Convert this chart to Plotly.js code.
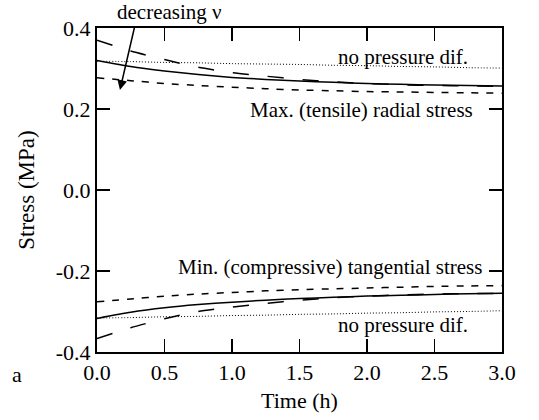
<!DOCTYPE html>
<html>
<head>
<meta charset="utf-8">
<script src="https://cdn.plot.ly/plotly-3.0.1.min.js"></script>
<style>
  html, body { margin: 0; padding: 0; background: #fff; }
  #chart { width: 539px; height: 420px; }
</style>
</head>
<body>
<div id="chart"></div>
<script>
// Time axis (h)
const time = [0, 0.25, 0.5, 0.75, 1.0, 1.25, 1.5, 1.75, 2.0, 2.25, 2.5, 2.75, 3.0];

// Max. (tensile) radial stress, MPa
const radialSolid  = [0.320, 0.305, 0.294, 0.285, 0.278, 0.273, 0.269, 0.266, 0.263, 0.261, 0.259, 0.258, 0.257];
const radialLong   = [0.370, 0.343, 0.322, 0.303, 0.290, 0.281, 0.273, 0.267, 0.263, 0.260, 0.258, 0.257, 0.256];
const radialShort  = [0.277, 0.270, 0.263, 0.258, 0.254, 0.250, 0.247, 0.245, 0.243, 0.242, 0.241, 0.240, 0.239];
const radialNoDif  = [0.318, 0.317, 0.315, 0.314, 0.312, 0.311, 0.310, 0.308, 0.307, 0.305, 0.304, 0.302, 0.301];

// Min. (compressive) tangential stress, MPa
const tangSolid    = [-0.317, -0.302, -0.291, -0.283, -0.277, -0.272, -0.268, -0.265, -0.262, -0.260, -0.258, -0.256, -0.255];
const tangLong     = [-0.367, -0.340, -0.318, -0.300, -0.289, -0.280, -0.272, -0.266, -0.262, -0.259, -0.257, -0.256, -0.255];
const tangShort    = [-0.276, -0.269, -0.262, -0.257, -0.253, -0.249, -0.246, -0.244, -0.242, -0.240, -0.238, -0.237, -0.236];
const tangNoDif    = [-0.316, -0.315, -0.313, -0.312, -0.310, -0.309, -0.307, -0.306, -0.304, -0.303, -0.301, -0.300, -0.298];

// Tick labels
const xTickVals = [0, 0.5, 1.0, 1.5, 2.0, 2.5, 3.0];
const xTickText = ['0.0', '0.5', '1.0', '1.5', '2.0', '2.5', '3.0'];
const yTickVals = [-0.4, -0.2, 0, 0.2, 0.4];
const yTickText = ['-0.4', '-0.2', '0.0', '0.2', '0.4'];

const FONT = '"Liberation Serif", "Times New Roman", Times, serif';

function line(y, dash, width) {
  return {
    x: time, y: y, type: 'scatter', mode: 'lines',
    line: { color: '#000', width: width, dash: dash, shape: 'spline', smoothing: 0.6 },
    hoverinfo: 'skip', showlegend: false
  };
}

const traces = [
  line(radialNoDif, '1px,2px', 1),
  line(radialSolid, 'solid', 1.5),
  line(radialLong, '16px,19px', 1.5),
  line(radialShort, '7px,8px', 1.5),
  line(tangNoDif, '1px,2px', 1),
  line(tangSolid, 'solid', 1.5),
  line(tangLong, '16px,19px', 1.5),
  line(tangShort, '7px,8px', 1.5)
];

const axisCommon = {
  showline: true, linecolor: '#000', linewidth: 2, mirror: 'ticks',
  ticks: 'inside', ticklen: 13, tickwidth: 1.5, tickcolor: '#000',
  showgrid: false, zeroline: false,
  tickfont: { family: FONT, size: 22, color: '#000' }
};

const layout = {
  width: 539, height: 420,
  margin: { l: 97, r: 37, t: 28, b: 68 },
  paper_bgcolor: '#fff', plot_bgcolor: '#fff',
  font: { family: FONT, color: '#000' },
  xaxis: Object.assign({}, axisCommon, {
    range: [0, 3], tickmode: 'array', tickvals: xTickVals, ticktext: xTickText,
    title: { text: 'Time (h)', font: { family: FONT, size: 22, color: '#000' }, standoff: 8 }
  }),
  yaxis: Object.assign({}, axisCommon, {
    range: [-0.4, 0.4], tickmode: 'array', tickvals: yTickVals, ticktext: yTickText,
    title: { text: 'Stress (MPa)', font: { family: FONT, size: 23, color: '#000' }, standoff: 15 }
  }),
  annotations: [
    { text: 'decreasing \u03bd', xref: 'x', yref: 'paper', x: 0.54, y: 1.0, yanchor: 'bottom',
      yshift: 2, showarrow: false, font: { family: FONT, size: 21, color: '#000' } },
    { text: '', xref: 'x', yref: 'y', x: 0.17, y: 0.247, axref: 'x', ayref: 'y', ax: 0.28, ay: 0.405,
      showarrow: true, arrowhead: 2, arrowsize: 1.3, arrowwidth: 1.5, arrowcolor: '#000' },
    { text: 'no pressure dif.', xref: 'x', yref: 'y', x: 2.27, y: 0.328, showarrow: false,
      font: { family: FONT, size: 21, color: '#000' } },
    { text: 'Max. (tensile) radial stress', xref: 'x', yref: 'y', x: 1.96, y: 0.197, showarrow: false,
      font: { family: FONT, size: 21, color: '#000' } },
    { text: 'Min. (compressive) tangential stress', xref: 'x', yref: 'y', x: 1.726, y: -0.19, showarrow: false,
      font: { family: FONT, size: 21, color: '#000' } },
    { text: 'no pressure dif.', xref: 'x', yref: 'y', x: 2.27, y: -0.333, showarrow: false,
      font: { family: FONT, size: 21, color: '#000' } },
    { text: 'a', xref: 'paper', yref: 'paper', x: -0.198, y: -0.068, xanchor: 'center', yanchor: 'middle',
      showarrow: false, font: { family: FONT, size: 22, color: '#000' } }
  ]
};

Plotly.newPlot('chart', traces, layout, { displayModeBar: false, staticPlot: true });
</script>
</body>
</html>
